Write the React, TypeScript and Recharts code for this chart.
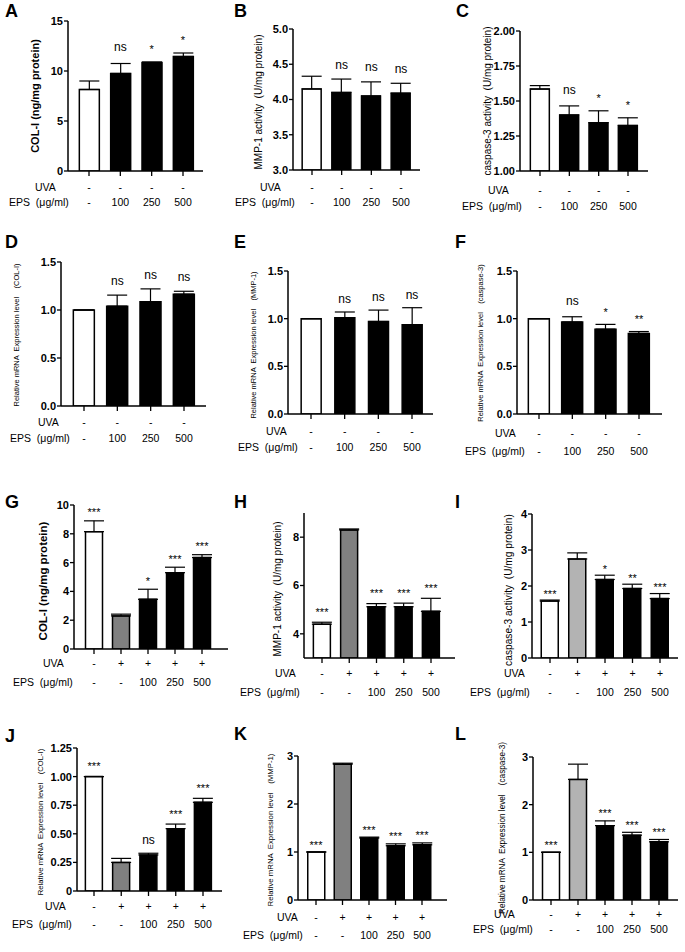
import React from 'react';
import { ComposedChart, Bar, Line, XAxis, YAxis, ErrorBar, LabelList, Cell } from 'recharts';

const FONT = 'Arial, "Liberation Sans", Helvetica, sans-serif';

// treatment rows under the bars
const UVA_OFF = ['-', '-', '-', '-'];
const EPS_4 = ['-', '100', '250', '500'];
const UVA_ON = ['-', '+', '+', '+', '+'];
const EPS_5 = ['-', '-', '100', '250', '500'];

// bar colours
const FILL_4 = ['#ffffff', '#000000', '#000000', '#000000'];
const FILL_5_DARK = ['#ffffff', '#808080', '#000000', '#000000', '#000000'];
const FILL_5_LIGHT = ['#ffffff', '#b3b3b3', '#000000', '#000000', '#000000'];

// means, top of error bar, significance marks
const A_MEAN = [8.15, 9.75, 10.85, 11.45];
const A_UPPER = [9.0, 10.75, 10.9, 11.8];
const A_SIG = ['', 'ns', '*', '*'];

const B_MEAN = [4.15, 4.1, 4.05, 4.09];
const B_UPPER = [4.33, 4.29, 4.25, 4.23];
const B_SIG = ['', 'ns', 'ns', 'ns'];

const C_MEAN = [1.585, 1.4, 1.345, 1.325];
const C_UPPER = [1.61, 1.465, 1.43, 1.38];
const C_SIG = ['', 'ns', '*', '*'];

const D_MEAN = [1.0, 1.04, 1.085, 1.165];
const D_UPPER = [1.0, 1.155, 1.22, 1.195];
const D_SIG = ['', 'ns', 'ns', 'ns'];

const E_MEAN = [1.0, 1.01, 0.97, 0.935];
const E_UPPER = [1.0, 1.07, 1.09, 1.115];
const E_SIG = ['', 'ns', 'ns', 'ns'];

const F_MEAN = [1.0, 0.965, 0.89, 0.845];
const F_UPPER = [1.0, 1.02, 0.94, 0.865];
const F_SIG = ['', 'ns', '*', '**'];

const G_MEAN = [8.15, 2.3, 3.45, 5.3, 6.35];
const G_UPPER = [8.9, 2.42, 4.15, 5.68, 6.55];
const G_SIG = ['***', '', '*', '***', '***'];

const H_MEAN = [4.4, 8.3, 5.12, 5.12, 4.93];
const H_UPPER = [4.48, 8.34, 5.25, 5.27, 5.47];
const H_SIG = ['***', '', '***', '***', '***'];

const I_MEAN = [1.58, 2.75, 2.18, 1.93, 1.65];
const I_UPPER = [1.61, 2.92, 2.3, 2.05, 1.79];
const I_SIG = ['***', '', '*', '**', '***'];

const J_MEAN = [1.0, 0.25, 0.315, 0.545, 0.775];
const J_UPPER = [1.0, 0.285, 0.33, 0.585, 0.81];
const J_SIG = ['***', '', 'ns', '***', '***'];

const K_MEAN = [1.0, 2.83, 1.29, 1.13, 1.15];
const K_UPPER = [1.0, 2.85, 1.31, 1.17, 1.19];
const K_SIG = ['***', '', '***', '***', '***'];

const L_MEAN = [1.0, 2.53, 1.56, 1.36, 1.22];
const L_UPPER = [1.0, 2.85, 1.66, 1.42, 1.27];
const L_SIG = ['***', '', '***', '***', '***'];

// y ticks
const T_A = [0, 5, 10, 15];
const T_B = [3.0, 3.5, 4.0, 4.5, 5.0];
const T_C = [1.0, 1.25, 1.5, 1.75, 2.0];
const T_DEF = [0, 0.5, 1.0, 1.5];
const T_G = [0, 2, 4, 6, 8, 10];
const T_H = [4, 6, 8];
const T_I = [0, 1, 2, 3, 4];
const T_J = [0, 0.25, 0.5, 0.75, 1.0, 1.25];
const T_KL = [0, 1, 2, 3];

const TITLE_COL = 'COL-I (ng/mg protein)';
const TITLE_MMP = 'MMP-1 activity  (U/mg protein)';
const TITLE_CASP = 'caspase-3 activity  (U/mg protein)';
const TITLE_R_COL = 'Relative mRNA  Expression level    (COL-I)';
const TITLE_R_MMP = 'Relative mRNA  Expression level    (MMP-1)';
const TITLE_R_CASP = 'Relative mRNA  Expression level    (caspase-3)';

const fmtInt = (v: number) => String(v);
const fmt1 = (v: number) => v.toFixed(1);
const fmt2 = (v: number) => v.toFixed(2);
const fmtJ = (v: number) => (v === 0 ? '0' : v.toFixed(2));

const panels = [
  { letter: 'A', lx: 5, ly: 17, axisX: 68, plotRight: 203, yTop: 21, yBottom: 171, firstX: 89, lastX: 183, barSize: 20, domain: [0, 15], ticks: T_A, fmt: fmtInt, mean: A_MEAN, upper: A_UPPER, sig: A_SIG, fills: FILL_4, uva: UVA_OFF, eps: EPS_4, uvaY: 187, epsY: 202, uvaX: 35, epsX: 9, gap: 16, title: TITLE_COL, tx: 35, ty: 96, tSize: 11, tBold: true },
  { letter: 'B', lx: 234, ly: 17, axisX: 293, plotRight: 420, yTop: 29, yBottom: 170, firstX: 312, lastX: 401, barSize: 19, domain: [3, 5], ticks: T_B, fmt: fmt1, mean: B_MEAN, upper: B_UPPER, sig: B_SIG, fills: FILL_4, uva: UVA_OFF, eps: EPS_4, uvaY: 187, epsY: 202, uvaX: 260, epsX: 235, gap: 14, title: TITLE_MMP, tx: 258, ty: 102, tSize: 10, tBold: false },
  { letter: 'C', lx: 456, ly: 17, axisX: 520, plotRight: 648, yTop: 31, yBottom: 171, firstX: 540, lastX: 628, barSize: 19, domain: [1, 2], ticks: T_C, fmt: fmt2, mean: C_MEAN, upper: C_UPPER, sig: C_SIG, fills: FILL_4, uva: UVA_OFF, eps: EPS_4, uvaY: 190, epsY: 206, uvaX: 488, epsX: 462, gap: 15, title: TITLE_CASP, tx: 487, ty: 101, tSize: 10, tBold: false },
  { letter: 'D', lx: 5, ly: 248, axisX: 61, plotRight: 206, yTop: 262, yBottom: 406, firstX: 84, lastX: 184, barSize: 21, domain: [0, 1.5], ticks: T_DEF, fmt: fmt1, mean: D_MEAN, upper: D_UPPER, sig: D_SIG, fills: FILL_4, uva: UVA_OFF, eps: EPS_4, uvaY: 422, epsY: 438, uvaX: 38, epsX: 10, gap: 13.5, title: TITLE_R_COL, tx: 16, ty: 335, tSize: 7.5, tBold: false },
  { letter: 'E', lx: 234, ly: 248, axisX: 288, plotRight: 433, yTop: 271, yBottom: 414, firstX: 311, lastX: 412, barSize: 20, domain: [0, 1.5], ticks: T_DEF, fmt: fmt1, mean: E_MEAN, upper: E_UPPER, sig: E_SIG, fills: FILL_4, uva: UVA_OFF, eps: EPS_4, uvaY: 431, epsY: 447, uvaX: 266, epsX: 238, gap: 12.5, title: TITLE_R_MMP, tx: 253, ty: 345, tSize: 7.5, tBold: false },
  { letter: 'F', lx: 455, ly: 248, axisX: 517, plotRight: 662, yTop: 271, yBottom: 414, firstX: 539, lastX: 639, barSize: 21, domain: [0, 1.5], ticks: T_DEF, fmt: fmt1, mean: F_MEAN, upper: F_UPPER, sig: F_SIG, fills: FILL_4, uva: UVA_OFF, eps: EPS_4, uvaY: 433, epsY: 451, uvaX: 495, epsX: 465, gap: 15, title: TITLE_R_CASP, tx: 480, ty: 343, tSize: 7.5, tBold: false },
  { letter: 'G', lx: 5, ly: 508, axisX: 74, plotRight: 228, yTop: 505, yBottom: 649, firstX: 94, lastX: 202, barSize: 17, domain: [0, 10], ticks: T_G, fmt: fmtInt, mean: G_MEAN, upper: G_UPPER, sig: G_SIG, fills: FILL_5_DARK, uva: UVA_ON, eps: EPS_5, uvaY: 663, epsY: 682, uvaX: 43, epsX: 13, gap: 11, title: TITLE_COL, tx: 43, ty: 581, tSize: 11.5, tBold: true },
  { letter: 'H', lx: 234, ly: 508, axisX: 304, plotRight: 455, yTop: 513, yBottom: 658, firstX: 322, lastX: 431, barSize: 17, domain: [3, 9], ticks: T_H, fmt: fmtInt, mean: H_MEAN, upper: H_UPPER, sig: H_SIG, fills: FILL_5_DARK, uva: UVA_ON, eps: EPS_5, uvaY: 673, epsY: 692, uvaX: 275, epsX: 240, gap: 13, title: TITLE_MMP, tx: 277, ty: 589, tSize: 10, tBold: false },
  { letter: 'I', lx: 455, ly: 508, axisX: 532, plotRight: 678, yTop: 514, yBottom: 658, firstX: 550, lastX: 660, barSize: 17, domain: [0, 4], ticks: T_I, fmt: fmtInt, mean: I_MEAN, upper: I_UPPER, sig: I_SIG, fills: FILL_5_LIGHT, uva: UVA_ON, eps: EPS_5, uvaY: 673, epsY: 692, uvaX: 504, epsX: 470, gap: 9, title: TITLE_CASP, tx: 508, ty: 590, tSize: 10.2, tBold: false },
  { letter: 'J', lx: 5, ly: 742, axisX: 77, plotRight: 222, yTop: 748, yBottom: 891, firstX: 94, lastX: 203, barSize: 17, domain: [0, 1.25], ticks: T_J, fmt: fmtJ, mean: J_MEAN, upper: J_UPPER, sig: J_SIG, fills: FILL_5_DARK, uva: UVA_ON, eps: EPS_5, uvaY: 906, epsY: 924, uvaX: 45, epsX: 12, gap: 13, title: TITLE_R_COL, tx: 40, ty: 822, tSize: 7.7, tBold: false },
  { letter: 'K', lx: 234, ly: 740, axisX: 298, plotRight: 447, yTop: 756, yBottom: 900, firstX: 316, lastX: 422, barSize: 17, domain: [0, 3], ticks: T_KL, fmt: fmtInt, mean: K_MEAN, upper: K_UPPER, sig: K_SIG, fills: FILL_5_DARK, uva: UVA_ON, eps: EPS_5, uvaY: 917, epsY: 935, uvaX: 277, epsX: 243, gap: 10, title: TITLE_R_MMP, tx: 270, ty: 830, tSize: 7.8, tBold: false },
  { letter: 'L', lx: 455, ly: 740, axisX: 533, plotRight: 678, yTop: 757, yBottom: 900, firstX: 551, lastX: 659, barSize: 17, domain: [0, 3], ticks: T_KL, fmt: fmtInt, mean: L_MEAN, upper: L_UPPER, sig: L_SIG, fills: FILL_5_LIGHT, uva: UVA_ON, eps: EPS_5, uvaY: 914, epsY: 929, uvaX: 494, epsX: 473, gap: 10, title: TITLE_R_CASP, tx: 502, ty: 828, tSize: 8.2, tBold: false },
];

const SigLabel = (props: any) => {
  const { x, y, value, gap } = props;
  if (!value) return null;
  const ns = value === 'ns';
  return (
    <text x={x} y={y - gap + (ns ? 3.5 : 6.5)} textAnchor="middle" fontFamily={FONT} fontSize={ns ? 12 : 11} fill="#000">
      {value}
    </text>
  );
};

const RowTick = (props: any) => {
  const { x, index, rows, uvaY, epsY } = props;
  const row = rows[index];
  if (!row) return null;
  return (
    <g fontFamily={FONT} fontSize={10.5} fill="#000" textAnchor="middle">
      <text x={x} y={uvaY}>{row.uva}</text>
      <text x={x} y={epsY}>{row.eps}</text>
    </g>
  );
};

const Panel = ({ p }: any) => {
  const mTop = 12;
  const top = p.yTop - mTop;
  const left = p.axisX - 40;
  const width = p.plotRight + 6 - left;
  const height = p.epsY + 10 - top;
  const xAxisH = height - mTop - (p.yBottom - p.yTop);
  const band = (p.lastX - p.firstX) / (p.mean.length - 1);
  const padL = p.firstX - p.axisX - band / 2;
  const padR = p.plotRight - p.lastX - band / 2;

  const data = p.mean.map((m: number, i: number) => ({
    name: `g${i}`,
    mean: m,
    upper: p.upper[i],
    err: [0, Number((p.upper[i] - m).toFixed(4))],
    sig: p.sig[i],
    uva: p.uva[i],
    eps: p.eps[i],
  }));

  return (
    <div style={{ position: 'absolute', left, top }}>
      <ComposedChart width={width} height={height} data={data} margin={{ top: mTop, right: 6, left: 0, bottom: 0 }}>
        <XAxis
          dataKey="name"
          interval={0}
          height={xAxisH}
          padding={{ left: padL, right: padR }}
          axisLine={{ stroke: '#000', strokeWidth: 1.5 }}
          tickLine={{ stroke: '#000', strokeWidth: 1.3 }}
          tickSize={5}
          tick={(tp: any) => (
            <RowTick {...tp} rows={data} uvaY={p.uvaY - top + 3.7} epsY={p.epsY - top + 3.7} />
          )}
        />
        <YAxis
          width={40}
          type="number"
          domain={p.domain}
          ticks={p.ticks}
          interval={0}
          allowDataOverflow
          tickFormatter={p.fmt}
          axisLine={{ stroke: '#000', strokeWidth: 1.5 }}
          tickLine={{ stroke: '#000', strokeWidth: 1.3 }}
          tickSize={4}
          tickMargin={1}
          tick={{ fill: '#000', fontSize: 11, fontWeight: 700, fontFamily: FONT }}
        />
        <Bar dataKey="mean" barSize={p.barSize} stroke="#000" strokeWidth={1.5} isAnimationActive={false}>
          {data.map((_: any, i: number) => (
            <Cell key={`c-${i}`} fill={p.fills[i]} />
          ))}
          <ErrorBar dataKey="err" width={10} stroke="#000" strokeWidth={1.2} direction="y" />
        </Bar>
        <Line dataKey="upper" stroke="none" dot={false} activeDot={false} isAnimationActive={false}>
          <LabelList dataKey="sig" content={(lp: any) => <SigLabel {...lp} gap={p.gap} />} />
        </Line>
      </ComposedChart>
    </div>
  );
};

export default function App() {
  return (
    <div style={{ position: 'absolute', left: 0, top: 0, width: 685, height: 952, background: '#fff', overflow: 'hidden' }}>
      {panels.map((p) => (
        <Panel key={p.letter} p={p} />
      ))}
      <svg width={685} height={952} style={{ position: 'absolute', left: 0, top: 0, pointerEvents: 'none' }} fontFamily={FONT}>
        {panels.map((p) => (
          <g key={`t-${p.letter}`}>
            <text x={p.lx} y={p.ly} fontSize={18} fontWeight={700} fill="#000">{p.letter}</text>
            <text
              x={p.tx}
              y={p.ty}
              fontSize={p.tSize}
              fontWeight={p.tBold ? 700 : 400}
              fill="#000"
              textAnchor="middle"
              dominantBaseline="central"
              transform={`rotate(-90 ${p.tx} ${p.ty})`}
              style={{ whiteSpace: 'pre' }}
            >
              {p.title}
            </text>
            <text x={p.uvaX} y={p.uvaY + 3.7} fontSize={10.5} fill="#000">UVA</text>
            <text x={p.epsX} y={p.epsY + 3.7} fontSize={10.5} fill="#000" style={{ whiteSpace: 'pre' }}>
              {'EPS  (\u03bcg/ml)'}
            </text>
          </g>
        ))}
      </svg>
    </div>
  );
}
